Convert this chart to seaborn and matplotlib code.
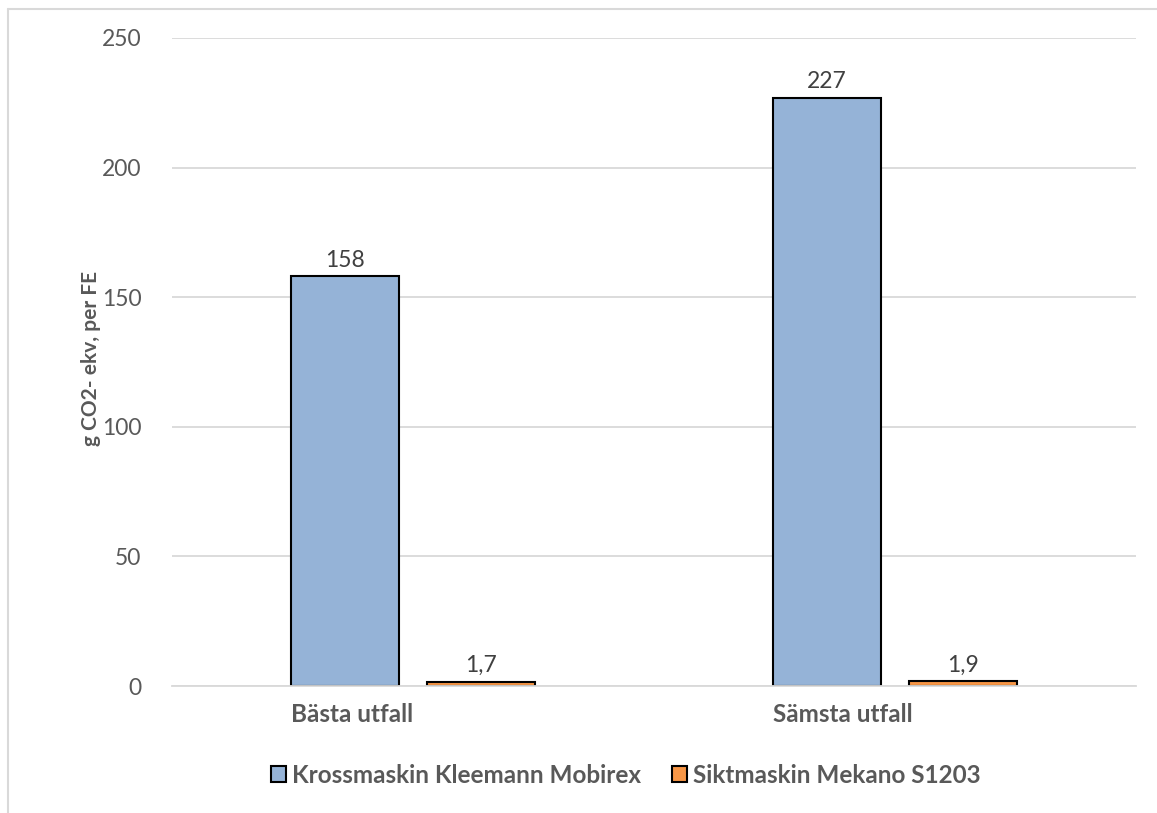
import matplotlib
matplotlib.use("Agg")
import matplotlib.pyplot as plt
from matplotlib.patches import Patch
from matplotlib.lines import Line2D
import seaborn as sns
import pandas as pd

# Data
categories = ["Bästa utfall", "Sämsta utfall"]
series_names = ["Krossmaskin Kleemann Mobirex", "Siktmaskin Mekano S1203"]
krossmaskin = [158, 227]
siktmaskin = [1.7, 1.9]
y_ticks = [0, 50, 100, 150, 200, 250]
y_label = "g CO2- ekv, per FE"

colors = ["#95B3D7", "#F79646"]
grid_color = "#D9D9D9"
text_color = "#595959"

df = pd.DataFrame({
    "kategori": categories * 2,
    "serie": [series_names[0]] * 2 + [series_names[1]] * 2,
    "värde": krossmaskin + siktmaskin,
})

sns.set_theme(style="white")
plt.rcParams["font.family"] = ["Lato", "DejaVu Sans"]

fig = plt.figure(figsize=(11.57, 8.13), dpi=100)
ax = fig.add_axes([172 / 1157, 1 - 686 / 813, (1136 - 172) / 1157, (686 - 38) / 813])

sns.barplot(
    data=df, x="kategori", y="värde", hue="serie",
    order=categories, hue_order=series_names,
    palette=colors, saturation=1, width=0.564, gap=0.206,
    edgecolor="black", linewidth=1.5, legend=False, ax=ax,
)

ax.set_ylim(0, 250)
ax.set_xlim(-0.5, 1.5)
ax.set_yticks(y_ticks)
ax.yaxis.grid(True, color=grid_color, linewidth=1.3)
ax.set_axisbelow(True)
for side in ["left", "right", "top"]:
    ax.spines[side].set_visible(False)
ax.spines["bottom"].set_color(grid_color)
ax.spines["bottom"].set_linewidth(1.3)
ax.tick_params(axis="y", length=0, pad=22, labelsize=16.5, labelcolor=text_color)

# Category labels start at the left edge of the first bar in each group
first_bars = ax.containers[0].patches
ax.set_xticks([p.get_x() for p in first_bars])
ax.set_xticklabels(categories, fontsize=17.5, fontweight="bold", color=text_color, ha="left")
ax.tick_params(axis="x", length=0, pad=12)

ax.set_xlabel("")
ax.set_ylabel(y_label, fontsize=15, fontweight="bold", color=text_color)
ax.yaxis.set_label_coords((101 - 172) / 964, (686 - 358) / 648)


def fmt(v):
    if v >= 10:
        return f"{v:.0f}"
    return f"{v:.1f}".replace(".", ",")


for cont in ax.containers:
    ax.bar_label(cont, labels=[fmt(v) for v in cont.datavalues],
                 padding=4, fontsize=16.5, color="#404040")

handles = [Patch(facecolor=c, edgecolor="black", linewidth=1.5) for c in colors]
leg = fig.legend(
    handles, series_names, loc="center", bbox_to_anchor=(626 / 1157, 1 - 775 / 813),
    ncol=2, frameon=False, handlelength=0.6, handleheight=0.6,
    handletextpad=0.25, columnspacing=1.3,
    prop={"size": 17.5, "weight": "bold"},
)
for t in leg.get_texts():
    t.set_color(text_color)

# Chart area frame
fig.add_artist(Line2D([8 / 1157, 8 / 1157], [0, 1 - 9 / 813], transform=fig.transFigure,
                      color=grid_color, linewidth=1.5))
fig.add_artist(Line2D([8 / 1157, 1], [1 - 9 / 813, 1 - 9 / 813], transform=fig.transFigure,
                      color=grid_color, linewidth=1.5))

fig.savefig("out.png", dpi=100)
